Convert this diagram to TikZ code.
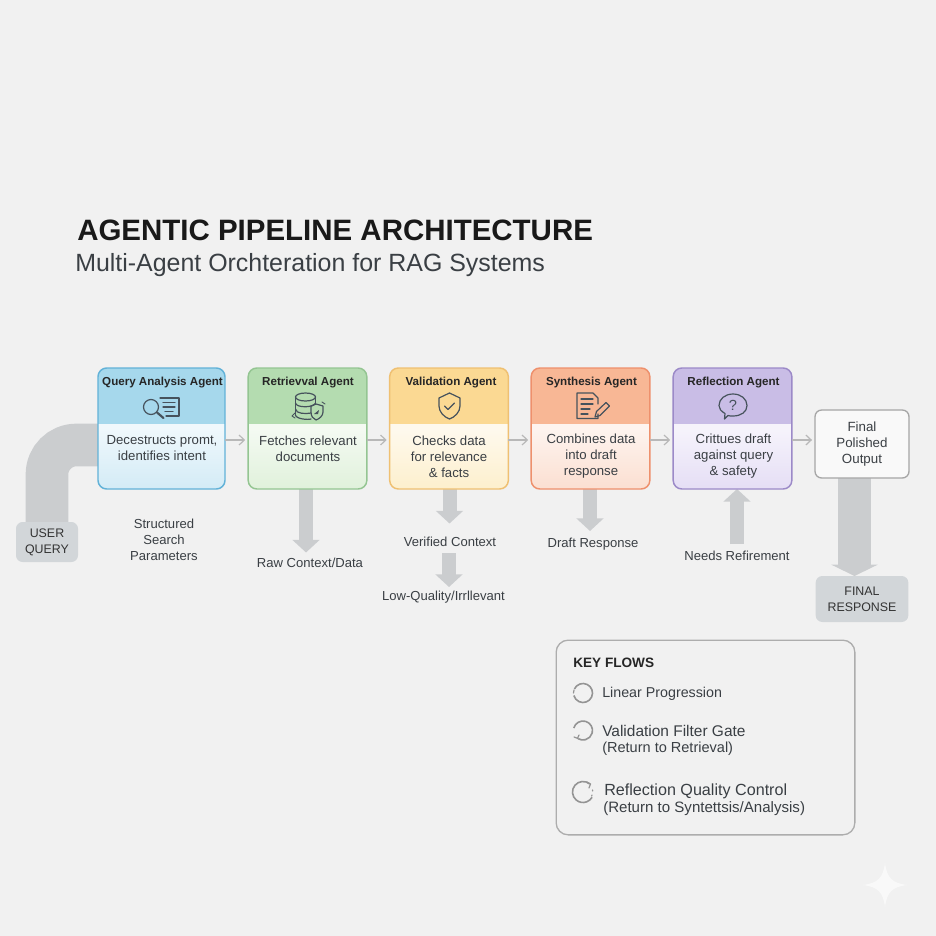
\documentclass[tikz,border=0pt]{standalone}
\usepackage{fontspec}
\setmainfont{Liberation Sans}
\usetikzlibrary{arrows.meta,calc}
\pgfdeclarelayer{back}
\pgfsetlayers{back,main}
\definecolor{bg}{HTML}{F1F1F1}
\definecolor{ink}{HTML}{3A3F44}
\definecolor{icon}{HTML}{46525C}
\definecolor{pipe}{HTML}{CBCDCF}
\definecolor{chip}{HTML}{D2D6D9}
\definecolor{qB}{HTML}{62B2D8}\definecolor{qH}{HTML}{A6D8EC}\definecolor{qF}{HTML}{D3EBF6}
\definecolor{rB}{HTML}{94C592}\definecolor{rH}{HTML}{B4DCB0}\definecolor{rF}{HTML}{E0F1DB}
\definecolor{vB}{HTML}{EFC072}\definecolor{vH}{HTML}{FBD993}\definecolor{vF}{HTML}{FDEFCD}
\definecolor{sB}{HTML}{EE906C}\definecolor{sH}{HTML}{F8B795}\definecolor{sF}{HTML}{FBDFD1}
\definecolor{fB}{HTML}{9C8AC8}\definecolor{fH}{HTML}{C9BDE6}\definecolor{fF}{HTML}{E5DEF5}
\newcommand{\fs}[1]{\fontsize{#1}{12pt}\selectfont}
\tikzset{
  x=0.75pt,y=-0.75pt,
  agentbox/.style n args={3}{draw=#1,line width=1.1pt,rounded corners=6.5pt,outer sep=0pt,
    minimum height=90.75pt,minimum width=89pt,top color=#3!35!white,bottom color=#3,middle color=#3!35!white,
    path picture={\fill[#2,sharp corners]
      (path picture bounding box.north west) rectangle ($(path picture bounding box.north east)+(0,56)$);}},
  agenthead/.style={font=\bfseries\fs{8.7},text=black!85,inner sep=0pt},
  agentbody/.style={font=\fs{9.9},text=ink,align=center,inner sep=0pt},
  lab/.style={font=\fs{9.8},text=ink,align=center,inner sep=0pt},
  chipbox/.style={fill=chip,rounded corners=5pt,outer sep=0pt,font=\fs{9.3},text=black!80,align=center,inner sep=0pt},
  thinflow/.style={draw=black!28,line width=0.9pt,shorten >=2.2pt,-{Straight Barb[length=4pt,width=7.5pt]}},
  big/.style={draw=pipe,line width=10.5pt,-{Triangle[length=9.5pt,width=20pt]}},
  ic/.style={draw=icon,line width=0.9pt,line join=round,line cap=round},
  gate/.style={draw=black!42,line width=1.2pt},
  gatetip/.style={draw=black!42,line width=0.9pt,line cap=round},
  keytxt/.style={font=\fs{10.9},text=ink,anchor=west,inner sep=0pt},
}
\begin{document}
\begin{tikzpicture}
\useasboundingbox (0,0) rectangle (936,936);
\begin{pgfonlayer}{back}
\fill[bg] (0,0) rectangle (936,936);
\fill[white!60!bg] (885,863) .. controls (887,878) and (892,883) .. (907,885) .. controls (892,887) and (887,892) .. (885,907) .. controls (883,892) and (878,887) .. (863,885) .. controls (878,883) and (883,878) .. (885,863) -- cycle;
\end{pgfonlayer}
% title
\node[anchor=west,inner sep=0pt,font=\bfseries\fs{22.1},text=black!90] (title) at (77,230) {AGENTIC PIPELINE ARCHITECTURE};
\node[anchor=west,inner sep=0pt,font=\fs{18.7},text=ink] (subtitle) at (75,265.5) {Multi-Agent Orchteration for RAG Systems};
\coordinate (flowy) at (0,440);
\coordinate (pipey) at (0,445);
% boxes
\node[chipbox,minimum width=46.5pt,minimum height=30pt] (uq) at (47,542) {USER\\QUERY};
\node[agentbox={qB}{qH}{qF},minimum width=95.25pt] (q) at (161.5,428.5) {};
\node[agentbox={rB}{rH}{rF}] (r) at (307.5,428.5) {};
\node[agentbox={vB}{vH}{vF}] (v) at (449,428.5) {};
\node[agentbox={sB}{sH}{sF}] (s) at (590.5,428.5) {};
\node[agentbox={fB}{fH}{fF}] (f) at (732.5,428.5) {};
\node[draw=black!35,line width=1pt,fill=white!55!bg,rounded corners=5pt,outer sep=0pt,minimum width=70.5pt,minimum height=51pt,font=\fs{10},text=ink,align=center,inner sep=0pt] (out) at (862,444) {Final\\Polished\\Output};
\node[chipbox,minimum width=69.5pt,minimum height=34.5pt] (fr) at (862,599) {FINAL\\RESPONSE};
% labels
\node[lab] (l1) at (164,539.5) {Structured\\Search\\Parameters};
\node[lab] (l2) at (310,562.5) {Raw Context/Data};
\node[lab] (l3) at (450,541.5) {Verified Context};
\node[lab] (l4) at (443.5,597) {Low-Quality/Irrllevant};
\node[lab] (l5) at (593,544) {Draft Response};
\node[lab] (l6) at (737,556) {Needs Refirement};
% free ends of the heavy connectors
\coordinate (e2) at (306,552.5);
\coordinate (e3) at (449.5,523.5);
\coordinate (s4) at (449,553);
\coordinate (e4) at (449,587);
\coordinate (e5) at (590,531);
\coordinate (s6) at (737,544);
% heavy connectors, under the boxes
\begin{pgfonlayer}{back}
\draw[draw=pipe,line width=32pt,rounded corners=22pt] (uq.north) |- (q.west |- pipey);
\draw[big] (r.south -| e2) -- (e2);
\draw[big] (v.south -| e3) -- (e3);
\draw[big] (s4) -- (e4);
\draw[big] (s.south -| e5) -- (e5);
\draw[big] (s6) -- (f.south -| s6);
\coordinate (finalx) at (854.5,0);
\draw[draw=pipe,line width=24.5pt,-{Triangle[length=8.5pt,width=34.5pt]}] (out.south -| finalx) -- (fr.north -| finalx);
\end{pgfonlayer}
% thin connectors
\draw[thinflow] (q.east |- flowy) -- (r.west |- flowy);
\draw[thinflow] (r.east |- flowy) -- (v.west |- flowy);
\draw[thinflow] (v.east |- flowy) -- (s.west |- flowy);
\draw[thinflow] (s.east |- flowy) -- (f.west |- flowy);
\draw[thinflow] (f.east |- flowy) -- (out.west |- flowy);
% agent text
\node[agenthead] (qh) at (162.5,383) {Query Analysis Agent};
\node[agenthead] (rh) at (308,383) {Retrievval Agent};
\node[agenthead] (vh) at (451,383) {Validation Agent};
\node[agenthead] (sh) at (591.5,383) {Synthesis Agent};
\node[agenthead] (fh) at (733.5,383) {Reflection Agent};
\node[agentbody] (qt) at (162,448.5) {Decestructs promt,\\identifies intent};
\node[agentbody] (rt) at (308,448.5) {Fetches relevant\\documents};
\node[agentbody] (vt) at (449,456.5) {Checks data\\for relevance\\\& facts};
\node[agentbody] (st) at (591,456.5) {Combines data\\into draft\\response};
\node[agentbody] (ft) at (733.5,456.5) {Crittues draft\\against query\\\& safety};
% icons: magnifier and list
\draw[ic] (151,407) circle (7.5);
\draw[ic,line width=1.6pt] (157,412.5) -- (163.5,418);
\draw[ic] (160,398) -- (179,398) -- (179,416) -- (166,416);
\draw[ic] (163,402.5) -- (175,402.5) (163,407) -- (175,407) (165,411.5) -- (173,411.5);
% icons: database and shield
\draw[ic] (305.5,397) ellipse (10 and 4);
\draw[ic] (295.5,397) -- (295.5,415);
\draw[ic] (295.5,415) .. controls (296,419) and (308,420) .. (311,419);
\draw[ic] (295.5,403) .. controls (296,408) and (314,408) .. (315.5,403);
\draw[ic] (295.5,409) .. controls (296,414) and (306,414) .. (311,413);
\draw[ic] (315.5,397) -- (315.5,404);
\draw[ic] (311,406) -- (316,404) -- (323,406) -- (323,412) .. controls (323,416) and (319,419) .. (316,420) .. controls (313,419) and (311,416) .. (311,412) -- cycle;
\fill[icon] (314,414) -- (319,410) -- (318,414) -- cycle;
\draw[ic,line width=0.7pt] (322,402) -- (325,404) (295,413) -- (292,416) -- (295,418);
% icons: shield
\draw[ic] (449.5,393) -- (460,398) -- (460,406) .. controls (460,412) and (455,417) .. (449.5,419) .. controls (444,417) and (439,412) .. (439,406) -- (439,398) -- cycle;
\draw[ic] (444.5,406) -- (448,409.5) -- (454.5,403);
% icons: document and pen
\draw[ic] (598,404) -- (598,398) -- (593,393) -- (577,393) -- (577,418.5) -- (598,418.5) -- (598,414);
\draw[ic] (581,399) -- (593,399) (581,404) -- (593,404) (581,409) -- (590,409) (581,414) -- (588,414);
\draw[ic] (595,417) -- (596.5,411.5) -- (606,402.5) -- (609.5,406) -- (600,415.5) -- cycle;
% icons: speech bubble
\draw[ic] (733,394) .. controls (741,394) and (747,399) .. (747,405.5) .. controls (747,412) and (741,416) .. (733,416) .. controls (731,416) and (729,416) .. (728,415.5) -- (724.5,419) -- (725,413.5) .. controls (721,411) and (719,409) .. (719,405.5) .. controls (719,399) and (725,394) .. (733,394) -- cycle;
\node[inner sep=0pt,font=\fs{11},text=icon] (qm) at (733,405) {?};
% legend
\node[draw=black!32,line width=1pt,rounded corners=9pt,outer sep=0pt,minimum width=224pt,minimum height=146pt] (legend) at (705.5,737.5) {};
\node[anchor=west,inner sep=0pt,font=\bfseries\fs{10.2},text=black!85] (kf) at (573,662.5) {KEY FLOWS};
% y runs downward here, so angles turn clockwise on the page
\draw[gate] (583,693) ++(205:9.5) arc[start angle=205,end angle=525,radius=9.5];
\draw[gatetip] (574,690) -- (573.5,693);
\draw[gate] (583,730.5) ++(195:9.5) arc[start angle=195,end angle=480,radius=9.5];
\draw[gatetip] (574,737) -- (578,738.5) (577.5,738.5) -- (579,735);
\draw[gate] (583,792) ++(-50:10.5) arc[start angle=-50,end angle=-330,radius=10.5];
\draw[gatetip] (587,782) -- (590.5,784) -- (589,788);
\draw[gatetip] (592.5,790) -- (592.7,791) (592,795) -- (591.7,796);
\node[keytxt,font=\fs{10.7}] (k1) at (602,694) {Linear Progression};
\node[keytxt,font=\fs{11.6}] (k2) at (602,731) {Validation Filter Gate};
\node[keytxt] (k2b) at (602,749) {(Return to Retrieval)};
\node[keytxt,font=\fs{12.1}] (k3) at (604,791) {Reflection Quality Control};
\node[keytxt,font=\fs{11.3}] (k3b) at (603,809) {(Return to Syntettsis/Analysis)};
\end{tikzpicture}
\end{document}
